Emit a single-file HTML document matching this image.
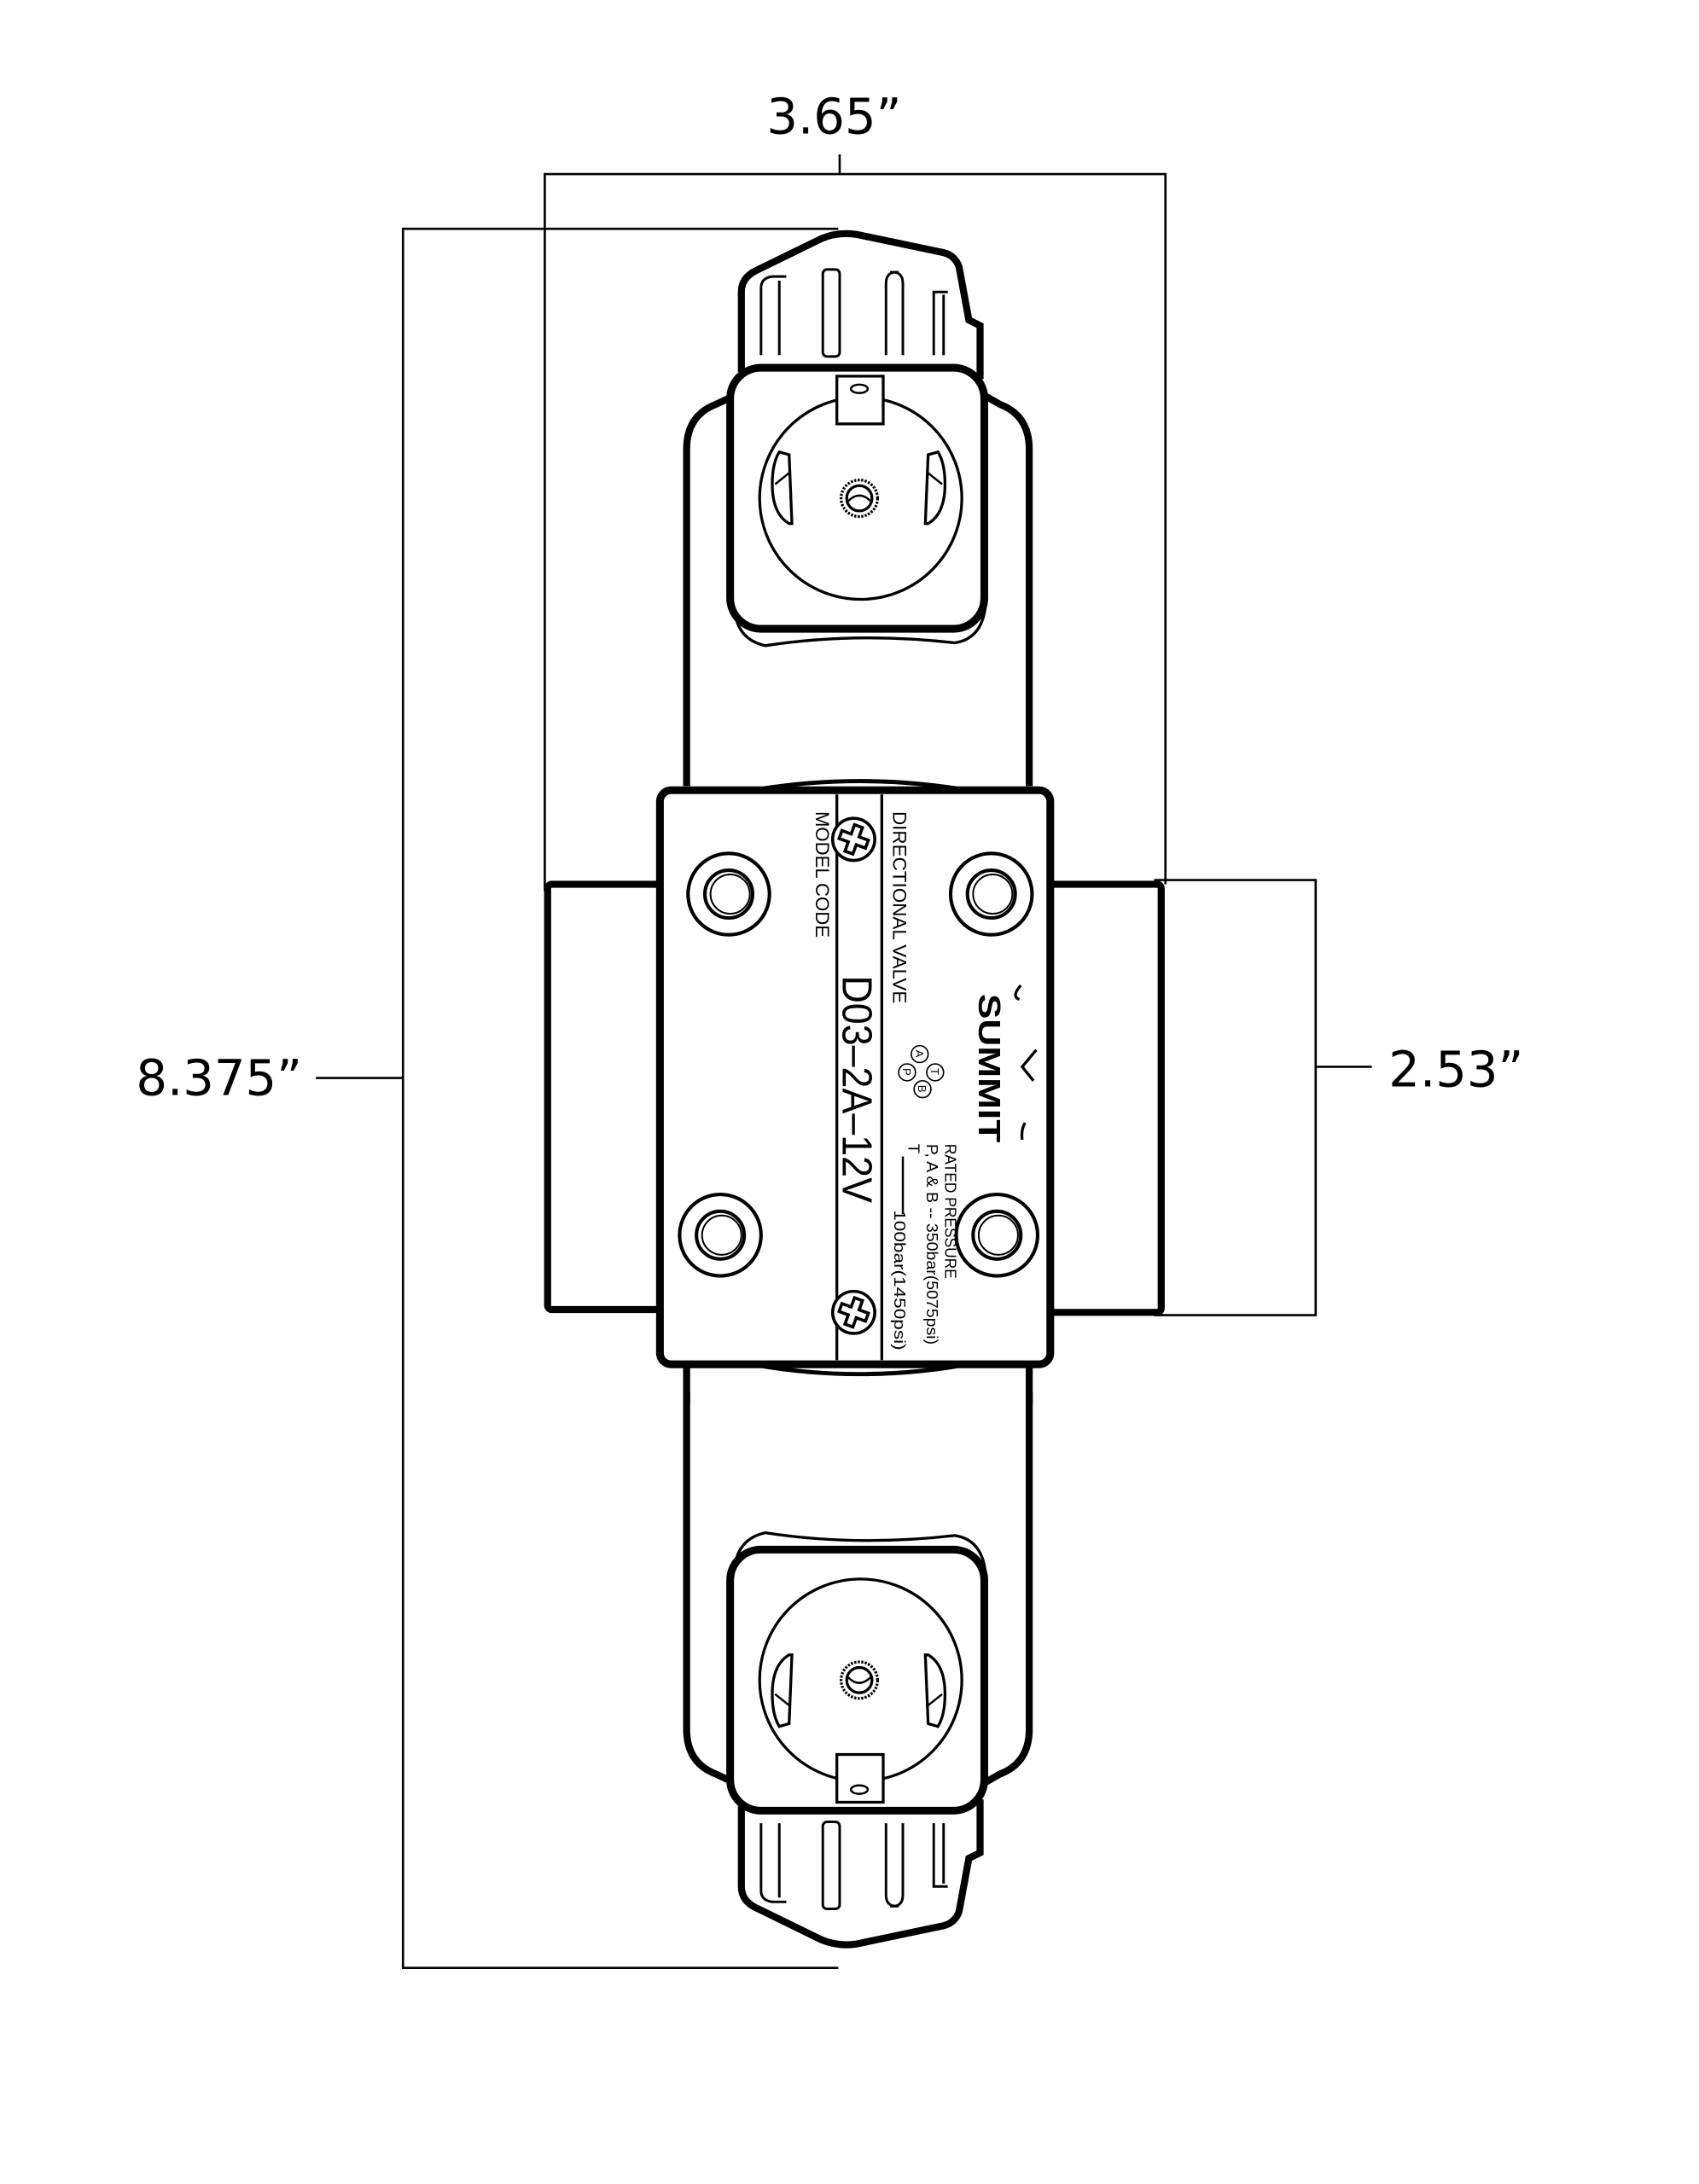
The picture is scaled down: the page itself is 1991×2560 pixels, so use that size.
<!DOCTYPE html>
<html><head><meta charset="utf-8"><style>
html,body{margin:0;padding:0;background:#fff;}
svg{display:block;}
text{font-family:"Liberation Sans",sans-serif;}
.dim{font-family:"DejaVu Sans","Liberation Sans",sans-serif;}
</style></head><body>
<svg width="1991" height="2560" viewBox="0 0 1210 1556" preserveAspectRatio="none" xmlns="http://www.w3.org/2000/svg">
<defs>
<g id="coil" fill="none" stroke="#000">
  <path d="M489 560 L489 320 Q489 296 510 288 L527 280 M733 560 L733 320 Q733 296 712 288 L698 280" stroke-width="5" fill="#fff"/>
  <path d="M528 265 L528 208 Q528 198 538 193 L585 170 Q597 165 610 167 L672 180 Q680 182 683 190 L690 228 L698 232 L698 270" stroke-width="5" fill="#fff"/>
  <path d="M542 253 L542 205 Q542 198 550 197 L560 197" stroke-width="1.8"/>
  <path d="M555 253 L555 200" stroke-width="1.8"/>
  <rect x="586" y="192" width="12" height="62" rx="3" stroke-width="1.8"/>
  <path d="M631 253 L631 202 Q631 193 640 194 M643 253 L643 202 Q643 193 634 194" stroke-width="1.8"/>
  <path d="M665 253 L665 208 L675 208 M672 253 L672 210" stroke-width="1.8"/>
  <path d="M523 430 Q523 455 545 460 Q610 450 680 458 Q700 455 702 430" stroke-width="2" fill="#fff"/>
  <rect x="520" y="262" width="181" height="186" rx="22" stroke-width="5.5" fill="#fff"/>
  <ellipse cx="613" cy="355" rx="72" ry="72" stroke-width="2"/>
  <rect x="596" y="268" width="33" height="34" fill="#fff" stroke-width="2"/>
  <ellipse cx="612" cy="277" rx="6" ry="3" stroke-width="1.5"/>
  <circle cx="612" cy="355" r="13" stroke-width="2" stroke-dasharray="1.5 1"/>
  <circle cx="612" cy="355" r="9" stroke-width="2"/>
  <path d="M604 357 Q612 349 620 357" stroke-width="1.5"/>
  <path d="M555 322 Q550 330 550 345 Q550 366 562 373 L564 373 L562 324 Z" stroke-width="2"/>
  <path d="M552 345 L562 337" stroke-width="1.5"/>
  <path d="M668 322 Q673 330 673 345 Q673 366 661 373 L659 373 L661 324 Z" stroke-width="2"/>
  <path d="M671 345 L661 337" stroke-width="1.5"/>
</g>
</defs>

<g stroke="#000" stroke-width="1.6" fill="none">
  <path d="M388 635 L388 124 L830 124 L830 630"/>
  <path d="M598 110 L598 124"/>
  <path d="M597 163 L287 163 L287 1402 L597 1402"/>
  <path d="M225 768 L287 768"/>
  <path d="M822 627 L937 627 L937 937 L822 937"/>
  <path d="M937 760 L977 760"/>
</g>
<text class="dim" x="594" y="95" font-size="35" text-anchor="middle">3.65”</text>
<text class="dim" x="156" y="780" font-size="35" text-anchor="middle">8.375”</text>
<text class="dim" x="1037" y="774" font-size="35" text-anchor="middle">2.53”</text>

<use href="#coil"/>
<use href="#coil" transform="translate(0,1552) scale(1,-1)"/>
<path d="M489 965 L489 1000 M733 965 L733 1000" stroke="#000" stroke-width="5"/>

<g stroke="#000" stroke-width="5" fill="#fff">
  <rect x="390" y="630" width="82" height="303" rx="3"/>
  <rect x="746" y="630" width="81" height="305" rx="3"/>
</g>
<path d="M525 565 Q612 548 700 565" stroke="#000" stroke-width="3" fill="none"/>
<path d="M525 970 Q612 988 700 970" stroke="#000" stroke-width="3" fill="none"/>

<rect x="470" y="563" width="278" height="409" rx="8" fill="#fff" stroke="#000" stroke-width="5.5"/>
<g stroke="#000" stroke-width="2" fill="none">
  <path d="M596 566 L596 969 M628 566 L628 969"/>
</g>
<g stroke="#000" fill="none">
  <g transform="translate(519,637)"><circle r="29" stroke-width="2.5"/><circle r="17" stroke-width="2.5"/><circle r="14" stroke-width="1.2" cx="1"/></g>
  <g transform="translate(706,637)"><circle r="29" stroke-width="2.5"/><circle r="17" stroke-width="2.5"/><circle r="14" stroke-width="1.2" cx="1"/></g>
  <g transform="translate(513,880)"><circle r="29" stroke-width="2.5"/><circle r="17" stroke-width="2.5"/><circle r="14" stroke-width="1.2" cx="1"/></g>
  <g transform="translate(710,880)"><circle r="29" stroke-width="2.5"/><circle r="17" stroke-width="2.5"/><circle r="14" stroke-width="1.2" cx="1"/></g>
</g>
<g stroke="#000" stroke-width="2.2" fill="#fff">
  <g transform="translate(608,598)"><circle r="15"/><path d="M-3 -10 L3 -10 L3 -3 L10 -3 L10 3 L3 3 L3 10 L-3 10 L-3 3 L-10 3 L-10 -3 L-3 -3 Z" transform="rotate(20)"/></g>
  <g transform="translate(608,935)"><circle r="15"/><path d="M-3 -10 L3 -10 L3 -3 L10 -3 L10 3 L3 3 L3 10 L-3 10 L-3 3 L-10 3 L-10 -3 L-3 -3 Z" transform="rotate(20)"/></g>
</g>

<text transform="translate(636,578) rotate(90)" font-size="13.5" textLength="137" lengthAdjust="spacingAndGlyphs">DIRECTIONAL VALVE</text>
<text transform="translate(581,578) rotate(90)" font-size="13.5" textLength="90" lengthAdjust="spacingAndGlyphs">MODEL CODE</text>
<text transform="translate(600,695) rotate(90)" font-size="30" textLength="162" lengthAdjust="spacingAndGlyphs">D03–2A–12V</text>
<text transform="translate(697,708) rotate(90)" font-size="22" font-weight="bold" textLength="106" lengthAdjust="spacingAndGlyphs">SUMMIT</text>
<path d="M727 702 Q720 710 726 712 M738 748 L728 760 L736 770 M730 800 Q727 805 728 812" stroke="#000" stroke-width="2" fill="none"/>
<g stroke="#000" stroke-width="1" fill="none">
  <circle cx="646" cy="764" r="6"/><circle cx="666" cy="764" r="6"/><circle cx="655" cy="751" r="6"/><circle cx="657" cy="776" r="6"/>
</g>
<g font-size="8">
  <text transform="translate(652,748) rotate(90)">A</text>
  <text transform="translate(663,761) rotate(90)">T</text>
  <text transform="translate(643,761) rotate(90)">P</text>
  <text transform="translate(654,773) rotate(90)">B</text>
</g>
<text transform="translate(673,815) rotate(90)" font-size="11" textLength="96" lengthAdjust="spacingAndGlyphs">RATED PRESSURE</text>
<text transform="translate(660,815) rotate(90)" font-size="11" textLength="143" lengthAdjust="spacingAndGlyphs">P, A &amp; B -- 350bar(5075psi)</text>
<text transform="translate(647,815) rotate(90)" font-size="11">T</text>
<path d="M643 824 L643 865" stroke="#000" stroke-width="1.5"/>
<text transform="translate(637,862) rotate(90)" font-size="11" textLength="100" lengthAdjust="spacingAndGlyphs">100bar(1450psi)</text>
</svg>
</body></html>
